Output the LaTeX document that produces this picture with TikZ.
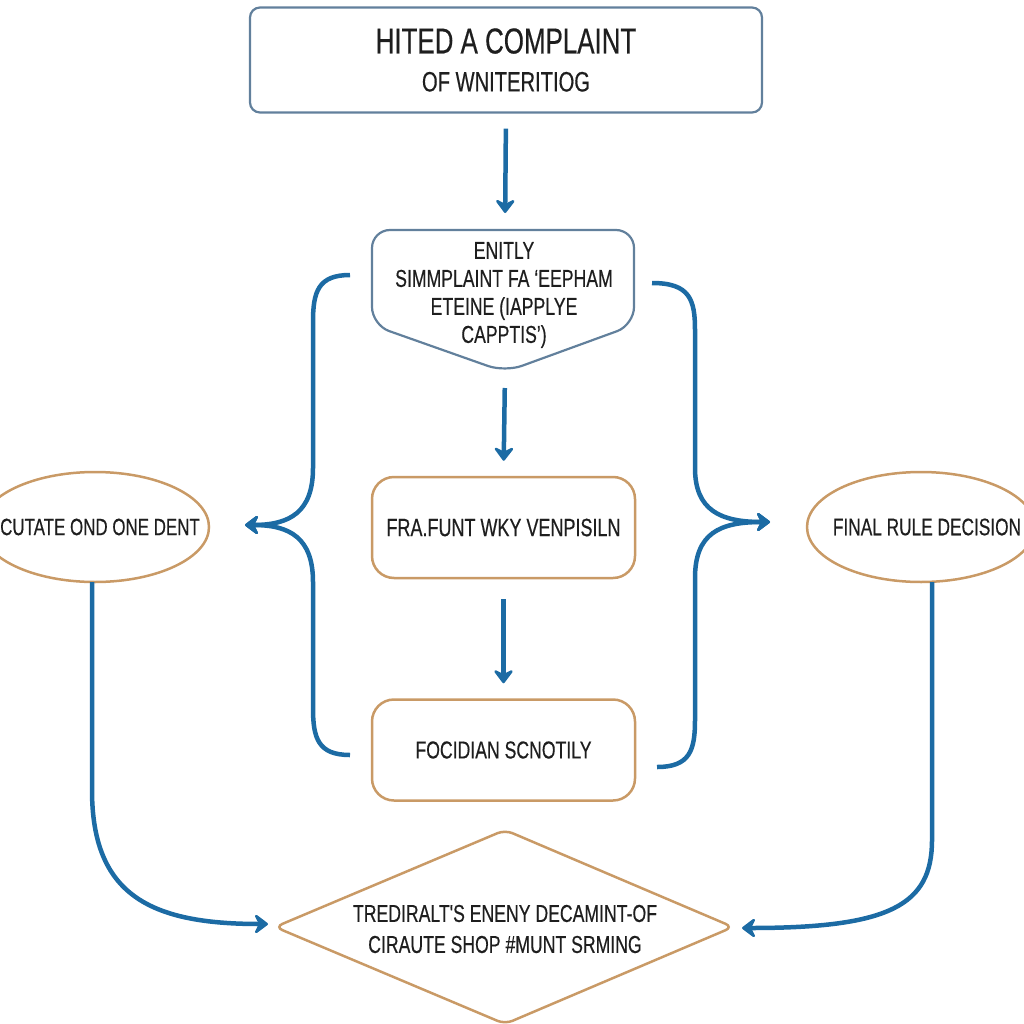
\documentclass[tikz,border=0pt]{standalone}
\usepackage{fontspec}
\newfontfamily\condsans[FakeStretch=0.72,FakeBold=0.4]{Liberation Sans}
\usetikzlibrary{shapes.geometric,arrows.meta}
\definecolor{flowblue}{HTML}{1C6BA4}
\definecolor{slateline}{HTML}{62809C}
\definecolor{tanline}{HTML}{C99A66}
\definecolor{inkgray}{HTML}{1E1E1E}
\tikzset{
  flow/.style={draw=flowblue, line width=4.5pt, -{Stealth[length=16pt,width=24pt,inset=6pt,round]}},
  topbox/.style={draw=slateline, line width=2.2pt, rounded corners=10pt, minimum width=512pt, minimum height=105pt, align=center},
  tanbox/.style={draw=tanline, line width=2.5pt, rounded corners=22pt, minimum width=263pt, minimum height=101pt},
  oval/.style={ellipse, draw=tanline, line width=2.5pt, minimum width=228pt, minimum height=110pt, inner xsep=-60pt, inner ysep=0pt},
  txt/.style={text=inkgray, font=\condsans\fontsize{24.5}{28}\selectfont, align=center}
}
\begin{document}
\begin{tikzpicture}[x=1pt, y=-1pt]
  \useasboundingbox (0,0) rectangle (1024,1024);
  % boxes
  \node[topbox, txt] (top) at (506,60)
    {\rule{0pt}{8pt}{\fontsize{36}{40}\selectfont HITED A COMPLAINT}\\[10pt]{\fontsize{28}{34}\selectfont OF WNITERITIOG}};
  \draw[slateline, line width=2.2pt, rounded corners=18pt]
    (372,325) -- (372,230) -- (634,230) -- (634,325) -- (505,372) -- cycle;
  \node[txt, inner sep=0pt] (entry) at (504,295)
    {ENITLY\\SIMMPLAINT FA ‘EEPHAM\\ETEINE (IAPPLYE\\CAPPTIS’)};
  \coordinate (entrytop) at (505,230);
  \coordinate (entrytip) at (505,372);
  \node[tanbox, txt, font=\condsans\fontsize{25}{30}\selectfont] (review) at (503.5,527.5) {FRA.FUNT WKY VENPISILN};
  \node[tanbox, txt] (focus) at (503.5,750) {FOCIDIAN SCNOTILY};
  \node[oval, txt, font=\condsans\fontsize{23.5}{28}\selectfont] (cut) at (95,527) {\hspace*{10pt}CUTATE OND ONE DENT};
  \node[oval, txt, font=\condsans\fontsize{24}{28}\selectfont] (final) at (921,527) {\hspace*{12pt}FINAL RULE DECISION};
  \draw[tanline, line width=2.5pt, rounded corners=8pt]
    (275,927) -- (505,830) -- (733,927) -- (505,1024) -- cycle;
  \node[txt, inner sep=0pt, font=\condsans\fontsize{24.5}{31}\selectfont] (diam) at (505,929)
    {TREDIRALT'S ENENY DECAMINT-OF\\CIRAUTE SHOP \#MUNT SRMING};
  % straight arrows
  \draw[flow, shorten <=15pt, shorten >=17pt] (top.south) -- (entrytop);
  \draw[flow, shorten <=16pt, shorten >=15pt] (entrytip) -- (review.north);
  \draw[flow, shorten <=20pt, shorten >=15pt] (review.south) -- (focus.north);
  % braces
  \coordinate (lt) at (350,275);
  \coordinate (lb) at (350,755);
  \coordinate (lj) at (245,525);
  \coordinate (rt) at (652,283);
  \coordinate (rb) at (657,767);
  \coordinate (rj) at (770,522);
  \draw[flow] (lt) .. controls (318,275) and (313,292) .. (313,322) -- (313,468) .. controls (313,512) and (290,525) .. (lj);
  \draw[flow] (lb) .. controls (318,755) and (313,738) .. (313,708) -- (313,582) .. controls (313,538) and (290,525) .. (lj);
  \draw[flow] (rt) .. controls (690,283) and (695,300) .. (695,330) -- (695,468) .. controls (695,510) and (720,522) .. (rj);
  \draw[flow] (rb) .. controls (690,767) and (695,750) .. (695,720) -- (695,578) .. controls (695,533) and (720,522) .. (rj);
  % side lines to the diamond
  \coordinate (dl) at (268,924);
  \coordinate (dr) at (742,928);
  \draw[flow] (92,582) -- (92,790) .. controls (92,895) and (150,924) .. (dl);
  \draw[flow] (932,582) -- (932,840) .. controls (932,905) and (890,928) .. (dr);
\end{tikzpicture}
\end{document}
